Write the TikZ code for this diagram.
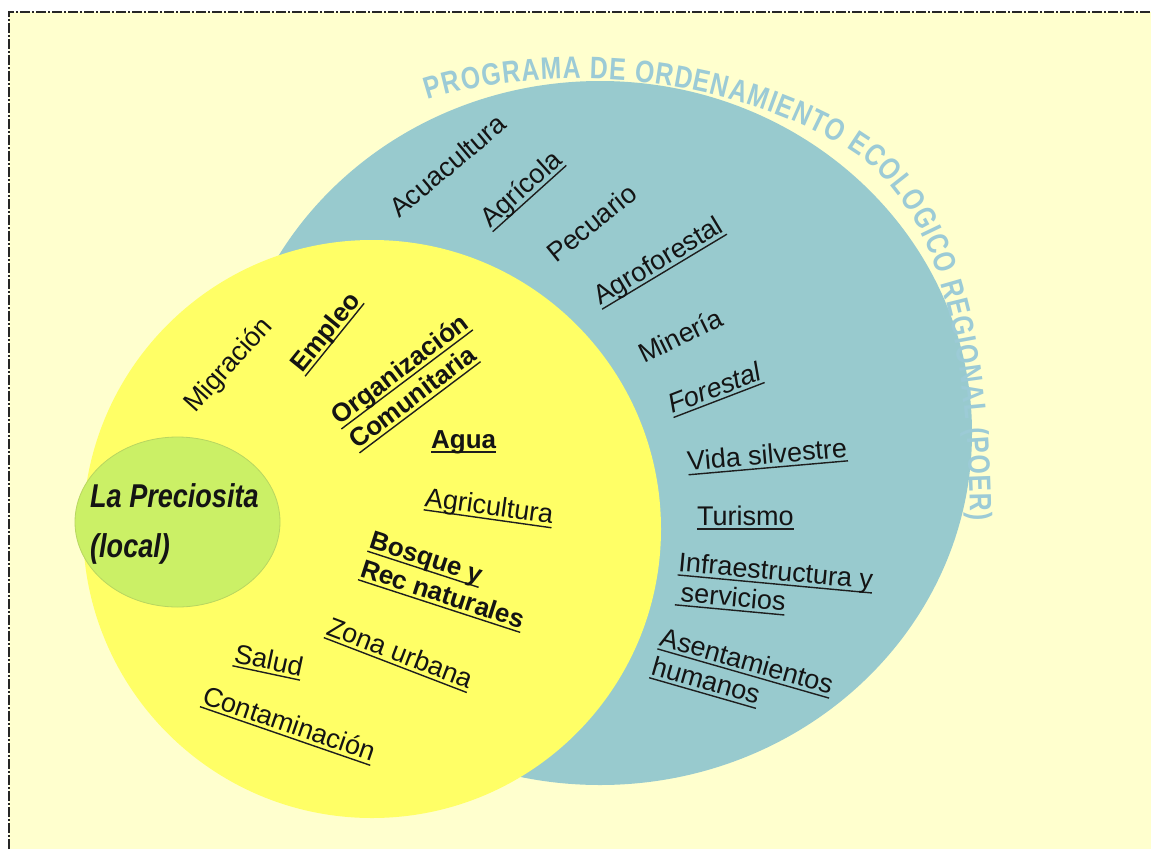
\documentclass[tikz,border=0pt]{standalone}
\usepackage{fontspec}
\usepackage{graphicx}
\setmainfont{Liberation Sans}
\newfontfamily\poerfont{Liberation Sans}[FakeStretch=0.8]
\usetikzlibrary{decorations.text}
\definecolor{bgy}{RGB}{255,255,206}
\definecolor{poer}{RGB}{152,202,206}
\definecolor{poertext}{RGB}{156,203,214}
\definecolor{yel}{RGB}{255,255,102}
\definecolor{grn}{RGB}{203,240,102}
\definecolor{grnb}{RGB}{184,214,96}
\definecolor{txt}{RGB}{20,20,20}
\definecolor{ulc}{RGB}{30,30,30}
\newcommand\myul[1]{\setbox0=\hbox{#1}\rlap{\color{ulc}\rule[-4.5pt]{\wd0}{1.4pt}}\box0}
\tikzset{
  lbl/.style={font=\fontsize{27}{30}\selectfont, text=txt, inner sep=0pt, anchor=base west, align=left},
  blbl/.style={lbl, font=\fontsize{26}{30}\selectfont\bfseries},
  ilbl/.style={lbl, font=\fontsize{27}{30}\selectfont\itshape},
  frame/.style={line width=2.5pt, draw=black!85, dash pattern=on 10pt off 2pt on 2pt off 2pt}
}
\begin{document}
\begin{tikzpicture}[x=1pt,y=-1pt]
\useasboundingbox (0,0) rectangle (1151,849);
\fill[white] (0,0) rectangle (1151,849);
\fill[bgy] (9,12) rectangle (1151,849);
\draw[frame] (9,849) -- (9,12) -- (1151,12);

% circles
\fill[poer] (600,433) ellipse [x radius=372, y radius=352];
\fill[yel] (372,529) circle (289);
\filldraw[fill=grn, draw=grnb, line width=0.8pt] (177.5,522) ellipse [x radius=102.5, y radius=85];

% curved title
\coordinate (t0) at (428,100);
\coordinate (t1) at (850,150);
\coordinate (t2) at (970,520);
\path[decorate, decoration={text along path, text align={fit to path},
  text={|\poerfont\bfseries\fontsize{31}{31}\selectfont\color{poertext}|PROGRAMA DE ORDENAMIENTO ECOLOGICO REGIONAL (POER)}}]
  (t0) .. controls (520,70) and (700,60) .. (t1) .. controls (930,200) and (968,320) .. (t2);

% outer (POER) items
\node[lbl, rotate=40] (acua) at (399,219) {Acuacultura};
\node[lbl, rotate=42] (agric) at (490,229) {\myul{Agrícola}};
\node[lbl, rotate=39] (pecu) at (556,264) {Pecuario};
\node[lbl, rotate=31] (agrof) at (600,306) {\myul{Agroforestal}};
\node[lbl, rotate=26] (mine) at (644,364) {Minería};
\node[ilbl, rotate=21] (fores) at (672,414) {\myul{Forestal}};
\node[lbl, rotate=5] (vida) at (688,471) {\myul{Vida silvestre}};
\node[lbl] (turi) at (697,525) {\myul{Turismo}};
\node[lbl, rotate=-5.3] (infra) at (675,601) {\myul{Infraestructura y}\\\myul{\hspace{5pt}servicios}};
\node[lbl, rotate=-16] (asen) at (650,674) {\myul{Asentamientos}\\\myul{humanos}};

% inner (local) items
\node[lbl, rotate=48] (migr) at (195,414) {Migración};
\node[blbl, rotate=51] (empl) at (302,374) {\myul{Empleo}};
\node[blbl, rotate=37] (orga) at (357,450) {\myul{Organización}\\\myul{Comunitaria}};
\node[blbl] (agua) at (431,448) {\myul{Agua}};
\node[lbl, rotate=-8] (agcu) at (424,506) {\myul{Agricultura}};
\node[blbl, rotate=-18] (bosq) at (359,576) {\myul{Bosque y}\\\myul{Rec naturales}};
\node[lbl, rotate=-21] (zona) at (325,634) {\myul{Zona urbana}};
\node[lbl, rotate=-12] (salu) at (233,662) {\myul{Salud}};
\node[lbl, rotate=-19] (cont) at (201,703) {\myul{Contaminación}};

% local
\node[lbl, font=\fontsize{33}{50}\selectfont\bfseries\itshape] (prec) at (90,557)
  {\scalebox{0.82}[1]{La Preciosita}\\\scalebox{0.82}[1]{(local)}};
\end{tikzpicture}
\end{document}
